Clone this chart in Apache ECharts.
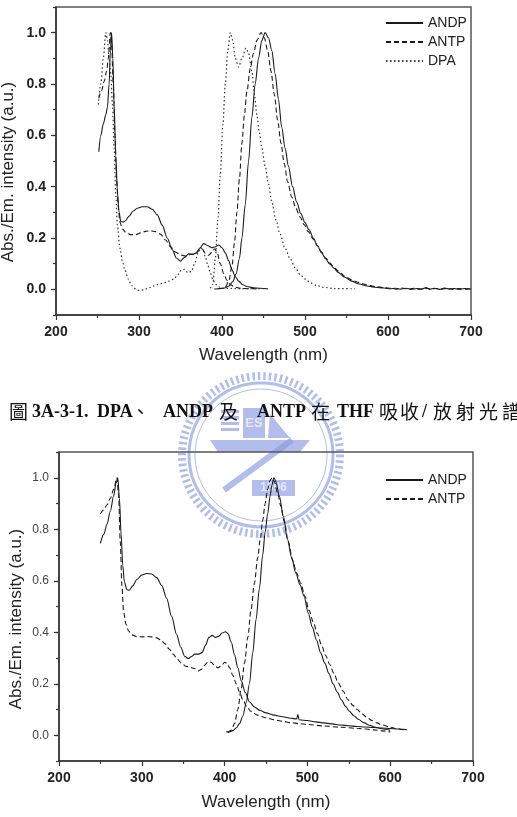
<!DOCTYPE html>
<html>
<head>
<meta charset="utf-8">
<script src="https://cdn.jsdelivr.net/npm/echarts@6/dist/echarts.min.js"></script>
<style>
html, body { margin: 0; padding: 0; background: #fff; }
#main { width: 517px; height: 817px; }
</style>
</head>
<body>
<div id="main"></div>
<script>
// axis ticks
var xTicks = [200, 300, 400, 500, 600, 700];
var yTicks = [0, 0.2, 0.4, 0.6, 0.8, 1.0];

// caption pieces: [text, x, cjk?]
var captionParts = [
    ['圖', 9, true], ['3A-3-1.', 32, false], ['DPA', 97, false], ['、', 131, true],
    ['ANDP', 163, false], ['及', 219, true], ['ANTP', 257, false], ['在', 311, true],
    ['THF', 337, false], ['吸', 379, true], ['收', 400, true], ['/', 422, false],
    ['放', 433, true], ['射', 456, true], ['光', 479, true], ['譜', 502, true]
];

// top chart: DPA / ANDP / ANTP in THF (wavelength nm, normalised intensity)
var andpAbs1 = [[251.6,0.536],[254,0.6],[257,0.645],[260,0.68],[262,0.71],[264,0.8],[265.5,0.93],[267,1.0],[268.5,0.9],[270,0.72],[272,0.52],[274,0.38],[276,0.3],[278,0.265],[281,0.262],[284,0.268],[288,0.285],[293,0.305],[298,0.316],[304,0.322],[310,0.322],[316,0.312],[322,0.29],[328,0.25],[334,0.2],[340,0.155],[345,0.122],[350,0.11],[355,0.125],[360,0.138],[365,0.137],[369,0.142],[373,0.16],[378,0.178],[383,0.17],[388,0.162],[392,0.166],[396,0.173],[400,0.162],[404,0.142],[408,0.112],[412,0.076],[416,0.05],[420,0.032],[425,0.018],[430,0.011],[438,0.006],[446,0.004],[455,0.002]];
var andpEm1 = [[390.7,0.001],[396,0.002],[402,0.004],[408,0.012],[413,0.03],[417,0.06],[421,0.12],[424,0.2],[428,0.33],[432,0.5],[436,0.67],[440,0.8],[444,0.9],[448,0.97],[452,1.0],[456,0.98],[460,0.93],[464,0.84],[468,0.74],[472,0.63],[476,0.55],[480,0.48],[485,0.4],[490,0.34],[495,0.295],[500,0.26],[505,0.232],[510,0.2],[515,0.17],[520,0.142],[525,0.118],[530,0.098],[535,0.082],[540,0.066],[548,0.047],[556,0.032],[565,0.021],[575,0.013],[585,0.008],[595,0.005],[603,0.002],[609,0.004],[615,0.001],[622,0.004],[628,0.0],[635,0.003],[641,0.001],[646,0.007],[650,0.0],[656,0.004],[662,0.0],[668,0.005],[674,0.001],[680,0.003],[686,0.0],[692,0.003],[700,0.001]];
var antpAbs1 = [[251.6,0.744],[255,0.775],[258,0.81],[261,0.85],[263,0.9],[265.5,1.0],[267,0.95],[269,0.8],[271,0.6],[273,0.43],[275,0.32],[277,0.262],[280,0.235],[284,0.222],[290,0.213],[296,0.213],[302,0.22],[308,0.226],[314,0.228],[320,0.225],[326,0.215],[332,0.192],[338,0.166],[344,0.145],[350,0.134],[356,0.13],[362,0.136],[367,0.135],[372,0.15],[376,0.158],[380,0.14],[384,0.133],[388,0.145],[391,0.158],[394,0.145],[398,0.1],[402,0.062],[406,0.035],[410,0.018],[416,0.008],[425,0.003],[445,0.002]];
var antpEm1 = [[395,0.002],[400,0.004],[404,0.01],[408,0.03],[412,0.09],[415,0.18],[418,0.3],[421,0.43],[424,0.57],[427,0.68],[430,0.77],[434,0.86],[438,0.92],[442,0.97],[447,1.0],[451,0.98],[455,0.93],[459,0.85],[463,0.76],[467,0.66],[471,0.57],[475,0.49],[479,0.42],[484,0.36],[489,0.315],[494,0.282],[499,0.252],[504,0.225],[510,0.195],[515,0.17],[520,0.145],[525,0.122],[530,0.102],[535,0.086],[540,0.071],[548,0.051],[556,0.037],[565,0.026],[575,0.017],[585,0.011],[595,0.007],[604,0.004],[610,0.001],[617,0.005],[624,0.001],[631,0.004],[638,0.0],[644,0.005],[651,0.001],[658,0.003],[664,0.0],[671,0.004],[678,0.0],[685,0.003],[693,0.001],[700,0.002]];
var dpaAbs1 = [[251,0.72],[254,0.8],[257,0.9],[260,1.0],[262,0.97],[264,0.9],[266,0.84],[268,0.72],[270,0.55],[272,0.37],[274,0.25],[277,0.16],[280,0.11],[283,0.075],[287,0.04],[291,0.015],[296,0.002],[300,-0.004],[306,-0.002],[312,0.006],[318,0.013],[324,0.02],[330,0.025],[336,0.032],[342,0.04],[347,0.058],[351,0.075],[355,0.078],[359,0.064],[363,0.07],[367,0.1],[371,0.14],[374,0.162],[377,0.155],[380,0.125],[383,0.093],[386,0.063],[389,0.038],[392,0.02],[396,0.01],[400,0.005],[415,0.003],[435,0.003],[455,0.002]];
var dpaEm1 = [[386,0.004],[389,0.02],[392,0.12],[395,0.27],[398,0.45],[401,0.64],[404,0.8],[407,0.93],[410,1.0],[413,0.97],[416,0.9],[420,0.866],[424,0.9],[429,0.94],[432,0.92],[436,0.85],[439,0.76],[442,0.68],[445,0.61],[448,0.55],[452,0.48],[456,0.41],[460,0.34],[465,0.27],[470,0.215],[476,0.16],[482,0.12],[488,0.085],[494,0.058],[500,0.04],[507,0.025],[514,0.015],[522,0.008],[535,0.003],[560,0.002]];

// bottom chart: ANDP / ANTP
var andpAbs2 = [[250,0.745],[254,0.78],[258,0.82],[262,0.87],[266,0.93],[269,0.98],[271,1.0],[273,0.92],[275,0.78],[277,0.66],[279,0.595],[282,0.565],[285,0.563],[289,0.58],[294,0.605],[300,0.622],[306,0.628],[312,0.626],[318,0.612],[324,0.582],[330,0.532],[336,0.462],[342,0.392],[347,0.342],[352,0.306],[356,0.298],[360,0.306],[364,0.315],[369,0.315],[373,0.322],[377,0.35],[381,0.38],[385,0.388],[389,0.38],[393,0.385],[397,0.397],[401,0.402],[404,0.395],[408,0.362],[412,0.312],[416,0.262],[420,0.212],[425,0.166],[430,0.13],[436,0.11],[443,0.096],[450,0.087],[460,0.078],[470,0.072],[480,0.066],[487,0.063],[488.5,0.08],[490,0.06],[500,0.057],[510,0.052],[520,0.048],[530,0.044],[540,0.04],[550,0.037],[560,0.034],[570,0.032],[580,0.03],[590,0.028],[600,0.026],[610,0.024],[620,0.022]];
var andpEm2 = [[402,0.013],[406,0.013],[410,0.018],[414,0.028],[418,0.045],[422,0.075],[426,0.125],[430,0.2],[434,0.32],[438,0.45],[442,0.57],[446,0.7],[449,0.79],[452,0.86],[455,0.93],[457,0.97],[459.5,1.0],[462,0.985],[466,0.93],[471,0.85],[476,0.76],[481,0.69],[486,0.63],[491,0.585],[496,0.54],[501,0.475],[506,0.42],[511,0.37],[516,0.32],[521,0.28],[526,0.24],[531,0.2],[536,0.168],[541,0.138],[546,0.112],[551,0.092],[556,0.076],[562,0.061],[568,0.049],[575,0.039],[582,0.031],[590,0.025],[600,0.019]];
var antpAbs2 = [[250,0.86],[254,0.875],[258,0.895],[262,0.92],[266,0.955],[270,1.0],[272,0.93],[274,0.75],[276,0.58],[278,0.48],[281,0.43],[284,0.405],[288,0.39],[294,0.383],[300,0.382],[306,0.383],[312,0.382],[318,0.378],[323,0.37],[328,0.355],[333,0.335],[338,0.315],[343,0.295],[348,0.28],[353,0.268],[358,0.265],[363,0.26],[368,0.25],[372,0.256],[376,0.272],[380,0.286],[384,0.283],[388,0.27],[392,0.262],[396,0.27],[400,0.283],[403,0.28],[406,0.262],[410,0.232],[414,0.2],[418,0.168],[422,0.138],[427,0.11],[432,0.092],[440,0.078],[450,0.068],[460,0.06],[470,0.054],[480,0.049],[490,0.045],[500,0.042],[520,0.036],[540,0.031],[560,0.027],[580,0.021],[590,0.017],[600,0.013]];
var antpEm2 = [[404,0.01],[408,0.02],[412,0.045],[416,0.1],[420,0.18],[424,0.28],[428,0.38],[432,0.49],[436,0.59],[440,0.69],[443,0.76],[446,0.835],[449,0.9],[452,0.955],[455,0.99],[457.5,1.0],[460,0.985],[464,0.94],[468,0.89],[472,0.83],[477,0.75],[482,0.68],[487,0.63],[492,0.59],[497,0.54],[502,0.485],[507,0.44],[512,0.395],[517,0.35],[522,0.31],[527,0.275],[532,0.24],[537,0.205],[543,0.172],[549,0.138],[555,0.116],[560,0.1],[566,0.083],[572,0.069],[578,0.057],[584,0.048],[590,0.04],[600,0.031],[610,0.024],[620,0.019]];

var FONT = '"Liberation Sans", Arial, sans-serif';
var INK = '#222';

function xAxisFor(grid, nameGap) {
    return {
        gridIndex: grid,
        type: 'value',
        min: 200,
        max: 700,
        interval: 100,
        name: 'Wavelength (nm)',
        nameLocation: 'middle',
        nameGap: nameGap,
        nameMoveOverlap: false,
        nameTextStyle: { fontFamily: FONT, fontSize: 17, color: INK },
        axisLine: { onZero: false, lineStyle: { color: '#333', width: 1.5 } },
        axisTick: { length: 5, lineStyle: { color: '#333', width: 1.2 } },
        minorTick: { show: true, splitNumber: 2, length: 3, lineStyle: { color: '#333', width: 1.2 } },
        axisLabel: { fontFamily: FONT, fontSize: 14, fontWeight: 'bold', color: INK, margin: 10 },
        splitLine: { show: false }
    };
}

function yMainFor(grid, bold, nameGap, shift) {
    return {
        gridIndex: grid,
        type: 'value',
        position: 'left',
        min: -0.1,
        max: 1.1,
        name: 'Abs./Em. intensity (a.u.)',
        nameLocation: 'middle',
        nameGap: nameGap,
        nameMoveOverlap: false,
        nameTextStyle: { fontFamily: FONT, fontSize: 17, color: INK, padding: [0, shift, 0, 0] },
        axisLine: { onZero: false, lineStyle: { color: '#333', width: 1.5 } },
        axisTick: { customValues: yTicks, length: 5, lineStyle: { color: '#333', width: 1.2 } },
        axisLabel: {
            customValues: yTicks,
            formatter: function (v) { return v.toFixed(1); },
            fontFamily: FONT,
            fontSize: bold ? 14 : 12,
            fontWeight: bold ? 'bold' : 'normal',
            color: bold ? INK : '#444',
            margin: 10
        },
        splitLine: { show: false }
    };
}

// second y axis on the same side, only for the 0.1 minor ticks
function yMinorFor(grid) {
    return {
        gridIndex: grid,
        type: 'value',
        position: 'left',
        min: -0.1,
        max: 1.1,
        interval: 0.1,
        axisLine: { show: false },
        axisTick: { length: 3, lineStyle: { color: '#333', width: 1.2 } },
        axisLabel: { show: false },
        splitLine: { show: false }
    };
}

var styles = {
    ANDP: { color: '#1a1a1a', width: 1.1, type: 'solid' },
    ANTP: { color: '#1a1a1a', width: 1.1, type: [5, 3] },
    DPA: { color: '#333', width: 1.2, type: [1.5, 2.5] }
};

function line(name, data, xi, yi) {
    return {
        name: name,
        type: 'line',
        data: data,
        xAxisIndex: xi,
        yAxisIndex: yi,
        symbol: 'none',
        smooth: 0.3,
        smoothMonotone: 'x',
        lineStyle: styles[name],
        itemStyle: { color: styles[name].color },
        z: 3
    };
}

function legendFor(names, top) {
    return {
        data: names,
        orient: 'vertical',
        left: 385,
        top: top,
        padding: 0,
        itemWidth: 37,
        itemHeight: 14,
        itemGap: 5,
        selectedMode: false,
        itemStyle: { opacity: 0 },
        textStyle: { fontFamily: FONT, fontSize: 14, color: INK }
    };
}

var LOGO = '#8999e2';
var cx = 261, cy = 455;
var logo = [
    { type: 'circle', shape: { cx: cx, cy: cy, r: 79 }, style: { fill: 'none', stroke: LOGO, lineWidth: 8, lineDash: [2.5, 3] } },
    { type: 'circle', shape: { cx: cx, cy: cy, r: 72 }, style: { fill: 'none', stroke: LOGO, lineWidth: 3 } },
    { type: 'circle', shape: { cx: cx, cy: cy, r: 66 }, style: { fill: 'none', stroke: LOGO, lineWidth: 1 } },
    { type: 'rect', shape: { x: 221, y: 410, width: 18, height: 3 }, style: { fill: LOGO } },
    { type: 'rect', shape: { x: 221, y: 416, width: 18, height: 3 }, style: { fill: LOGO } },
    { type: 'rect', shape: { x: 221, y: 422, width: 18, height: 3 }, style: { fill: LOGO } },
    { type: 'rect', shape: { x: 221, y: 428, width: 18, height: 3 }, style: { fill: LOGO } },
    { type: 'rect', shape: { x: 243, y: 408, width: 22, height: 30 }, style: { fill: LOGO } },
    { type: 'text', x: 254, y: 423, style: { text: 'ES', fill: '#fff', font: 'bold 13px "Liberation Sans"', align: 'center', verticalAlign: 'middle' } },
    { type: 'polygon', shape: { points: [[268, 438], [290, 438], [270, 414]] }, style: { fill: LOGO } },
    { type: 'polygon', shape: { points: [[210, 440], [310, 440], [300, 452], [218, 452]] }, style: { fill: LOGO } },
    { type: 'line', shape: { x1: 224, y1: 490, x2: 292, y2: 440 }, style: { stroke: LOGO, lineWidth: 6 } },
    { type: 'rect', shape: { x: 252, y: 480, width: 43, height: 16 }, style: { fill: LOGO } },
    { type: 'text', x: 273.5, y: 488, style: { text: '1896', fill: '#fff', font: 'bold 12px "Liberation Sans"', align: 'center', verticalAlign: 'middle' } }
];
logo.forEach(function (el) { el.z = -10; el.style.opacity = 0.65; });

var caption = captionParts.map(function (p) {
    return {
        type: 'text',
        x: p[1],
        y: 412,
        style: {
            text: p[0],
            fill: '#111',
            verticalAlign: 'middle',
            font: p[2] ? 'normal 19px "Noto Sans CJK TC"' : 'bold 18px "Liberation Serif"'
        }
    };
});

var option = {
    animation: false,
    backgroundColor: '#fff',
    grid: [
        { left: 56, top: 7, width: 415, height: 308, outerBoundsMode: 'none', show: true, borderColor: '#555', borderWidth: 1.5, backgroundColor: 'transparent' },
        { left: 59, top: 452, width: 414, height: 309, outerBoundsMode: 'none', show: true, borderColor: '#555', borderWidth: 1.5, backgroundColor: 'transparent' }
    ],
    legend: [legendFor(['ANDP', 'ANTP', 'DPA'], 16), legendFor(['ANDP', 'ANTP'], 473)],
    xAxis: [xAxisFor(0, 32), xAxisFor(1, 33)],
    yAxis: [yMainFor(0, true, 39, 22), yMinorFor(0), yMainFor(1, false, 34, 25), yMinorFor(1)],
    graphic: logo.concat(caption),
    series: [
        line('ANDP', andpAbs1, 0, 0),
        line('ANDP', andpEm1, 0, 0),
        line('ANTP', antpAbs1, 0, 0),
        line('ANTP', antpEm1, 0, 0),
        line('DPA', dpaAbs1, 0, 0),
        line('DPA', dpaEm1, 0, 0),
        line('ANDP', andpAbs2, 1, 2),
        line('ANDP', andpEm2, 1, 2),
        line('ANTP', antpAbs2, 1, 2),
        line('ANTP', antpEm2, 1, 2)
    ]
};

var myChart = echarts.init(document.getElementById('main'));
myChart.setOption(option);
</script>
</body>
</html>
